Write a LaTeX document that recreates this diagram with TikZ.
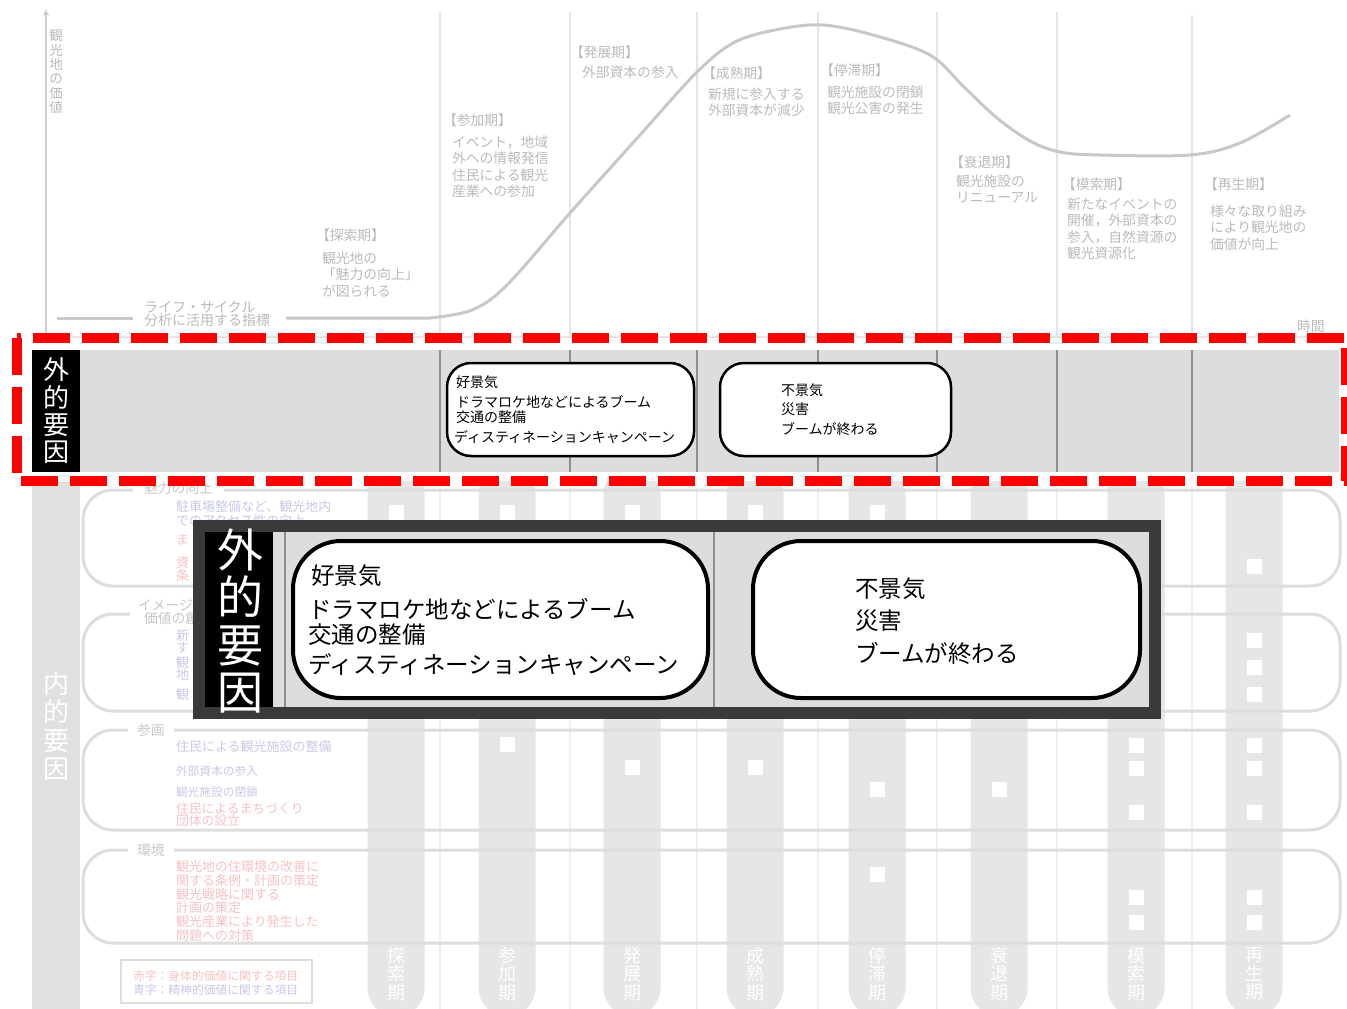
\documentclass[tikz,border=0pt]{standalone}
\usepackage{fontspec}
\setmainfont{Noto Sans CJK JP}
\usetikzlibrary{arrows.meta}
\definecolor{chartg}{HTML}{BBBBBB}
\definecolor{curvec}{HTML}{C8C8C8}
\definecolor{gridg}{HTML}{E5E5E5}
\definecolor{axisg}{HTML}{CFCFCF}
\definecolor{bandg}{HTML}{DCDDDD}
\definecolor{bandline}{HTML}{8E8E8E}
\definecolor{darkb}{HTML}{3C3A39}
\definecolor{pillg}{HTML}{E6E6E6}
\definecolor{boxg}{HTML}{DDDDDD}
\definecolor{labg}{HTML}{C8C8C8}
\definecolor{fblue}{HTML}{C9C9E9}
\definecolor{fred}{HTML}{F7C3C3}
\definecolor{lgrid}{HTML}{EFEFEF}
\definecolor{inbarc}{HTML}{E0E0E0}
\definecolor{dashred}{HTML}{FF0000}
\begin{document}
\begin{tikzpicture}[x=1pt,y=-1pt,
  every node/.style={inner sep=0pt,outer sep=0pt},
  ctext/.style={text=chartg,font=\fontsize{13.8}{16.4}\selectfont,align=left,anchor=north west},
  gridline/.style={draw=gridg,line width=1.8pt},
  lowgrid/.style={draw=lgrid,line width=2pt},
  grpbox/.style={draw=boxg,line width=3pt,rounded corners=30pt},
  grplabel/.style={text=labg,fill=white,font=\fontsize{13.8}{13}\selectfont,anchor=west,inner xsep=9pt,inner ysep=2pt,align=center},
  btext/.style={text=fblue,align=left,anchor=north west},
  rtext/.style={text=fred,align=left,anchor=north west},
  pill/.style={fill=pillg,rounded corners=28pt},
  smallbox/.style={draw=black,line width=2.5pt,fill=white,rounded corners=24pt,anchor=north west},
  bigbox/.style={draw=black,line width=4pt,fill=white,rounded corners=48pt,anchor=north west},
  stext/.style={text=black,font=\fontsize{14}{15}\selectfont,align=left,anchor=north west},
  btxt/.style={text=black,font=\fontsize{23.5}{25}\selectfont,align=left,anchor=north west},
]
\clip (0,0) rectangle (1347,1009);
\fill[white] (0,0) rectangle (1347,1009);

% ---------- top chart ----------
\foreach \x in {440,570,697,818,937,1057} \draw[gridline] (\x,12) -- (\x,337);
\draw[gridline] (1192,15) -- (1192,337);
\draw[gridline] (46,337) -- (1340,337);
\draw[draw=axisg,line width=2pt,-{Stealth[length=7pt,width=6pt]}] (46,337) -- (46,9);
\node[text=chartg,font=\fontsize{13.5}{14.3}\selectfont,align=center] (ylab) at (56,71.5) {観\\光\\地\\の\\価\\値};

\draw[curvec,line width=3pt] (57,318) -- (133,318);
\draw[curvec,line width=3pt,line join=round] (286,318) -- plot[smooth,tension=0.55] coordinates {(430,318) (472,310) (507,285) (570,213) (640,135) (697,72) (735,42) (780,29) (823,25) (873,35) (930,55) (965,88) (997,118) (1030,141) (1060,152) (1100,155) (1190,155) (1240,143) (1290,115)};

\node[text=chartg,font=\fontsize{14}{12}\selectfont,align=left,anchor=north west] (lc) at (144,300.7) {ライフ・サイクル\\分析に活用する指標};

\node[ctext] (t1) at (316,228.8) {【探索期】};
\node[ctext] (b1) at (322,251.8) {観光地の\\「魅力の向上」\\が図られる};
\node[ctext] (t2) at (443,113.8) {【参加期】};
\node[ctext] (b2) at (452,135.8) {イベント，地域\\外への情報発信\\住民による観光\\産業への参加};
\node[ctext] (t3) at (570,45.8) {【発展期】};
\node[ctext] (b3) at (582,65.8) {外部資本の参入};
\node[ctext] (t4) at (702,66.8) {【成熟期】};
\node[ctext] (b4) at (708,87.8) {新規に参入する\\外部資本が減少};
\node[ctext] (t5) at (820,63.8) {【停滞期】};
\node[ctext] (b5) at (827,85.8) {観光施設の閉鎖\\観光公害の発生};
\node[ctext] (t6) at (950,155.8) {【衰退期】};
\node[ctext] (b6) at (956,174.8) {観光施設の\\リニューアル};
\node[ctext] (t7) at (1062,177.8) {【模索期】};
\node[ctext] (b7) at (1067,197.8) {新たなイベントの\\開催，外部資本の\\参入，自然資源の\\観光資源化};
\node[ctext] (t8) at (1204,177.8) {【再生期】};
\node[ctext] (b8) at (1210,204.8) {様々な取り組み\\により観光地の\\価値が向上};
\node[ctext] (jikan) at (1297,319.8) {時間};

% ---------- lower region ----------
\fill[inbarc] (32,482) rectangle (80,1009);
\node[text=white,font=\fontsize{26}{28.5}\selectfont,align=center] (naiteki) at (56,726) {内\\的\\要\\因};
\foreach \x in {440,570,697,818,937,1057,1192} \draw[lowgrid] (\x,487) -- (\x,1009);

\foreach \cx in {396,507,632,755,877,999,1136,1254}
  \fill[pill] (\cx-28.5,466) rectangle (\cx+28.5,1016);

\foreach \cx/\cy in {396/512, 507/512, 507/744, 632/512, 632/767, 755/512, 755/767,
  877/512, 877/789, 877/874, 999/789,
  1136/745, 1136/768, 1136/812, 1136/897, 1136/922,
  1254/566, 1254/640, 1254/667, 1254/694, 1254/745, 1254/768, 1254/812, 1254/897, 1254/922}
  \fill[white] (\cx-7.5,\cy-7.5) rectangle (\cx+7.5,\cy+7.5);

\foreach \cx/\lab/\i in {396/{探\\索\\期}/1, 507/{参\\加\\期}/2, 632/{発\\展\\期}/3, 755/{成\\熟\\期}/4,
  877/{停\\滞\\期}/5, 999/{衰\\退\\期}/6, 1136/{模\\索\\期}/7, 1254/{再\\生\\期}/8}
  \node[text=white,font=\fontsize{18}{18.5}\selectfont,align=center] (pl\i) at (\cx,974) {\lab};

\draw[grpbox] (83,490) rectangle (1340,586);
\draw[grpbox] (83,614) rectangle (1340,711);
\draw[grpbox] (83,730) rectangle (1340,830);
\draw[grpbox] (83,850) rectangle (1340,943);
\node[grplabel,inner xsep=11pt] (g1) at (133,488) {魅力の向上};
\node[grplabel,inner xsep=8pt,align=left] (g2) at (130,612) {イメージ・\\\hspace{6pt}価値の創出};
\node[grplabel] (g3) at (128,730) {参画};
\node[grplabel] (g4) at (128,850) {環境};

\node[btext,font=\fontsize{13}{11.5}\selectfont] (i1) at (176,501) {駐車場整備など、観光地内\\でのアクセス性の向上};
\node[rtext,font=\fontsize{13}{12}\selectfont] (i2) at (176,534) {ま};
\node[rtext,font=\fontsize{13}{12}\selectfont] (i3) at (176,557) {資\\条};
\node[btext,font=\fontsize{13}{12}\selectfont] (i4) at (176,630) {新\\す};
\node[btext,font=\fontsize{13}{12}\selectfont] (i5) at (176,657) {観\\地};
\node[btext,font=\fontsize{13}{12}\selectfont] (i6) at (176,689) {観};

\node[btext,font=\fontsize{13}{12}\selectfont] (i7) at (176,741) {住民による観光施設の整備};
\node[btext,font=\fontsize{11.7}{12}\selectfont] (i8) at (176,765.7) {外部資本の参入};
\node[btext,font=\fontsize{11.7}{12}\selectfont] (i9) at (176,786.7) {観光施設の閉鎖};
\node[rtext,font=\fontsize{12.8}{12}\selectfont] (i10) at (176,803.2) {住民によるまちづくり\\団体の設立};
\node[rtext,font=\fontsize{13}{12}\selectfont] (i11) at (176,861) {観光地の住環境の改善に\\関する条例・計画の策定};
\node[rtext,font=\fontsize{13}{13}\selectfont] (i12) at (176,889) {観光戦略に関する\\計画の策定};
\node[rtext,font=\fontsize{13}{11.5}\selectfont] (i13) at (176,916) {観光産業により発生した\\問題への対策};

\node[draw=boxg,line width=2pt,minimum width=191pt,minimum height=43pt,anchor=north west] (legend) at (121,960) {};
\node[rtext,font=\fontsize{11.8}{12}\selectfont] (l1) at (133,970.7) {赤字：身体的価値に関する項目};
\node[btext,font=\fontsize{11.8}{12}\selectfont] (l2) at (133,984.7) {青字：精神的価値に関する項目};

% ---------- external factor band ----------
\fill[white] (17,338) rectangle (1346,481);
\fill[bandg] (32,350) rectangle (1339,472);
\foreach \x in {440,570,697,818,937,1057,1192} \draw[bandline,line width=1.5pt] (\x,350) -- (\x,472);
\fill[black] (32,350) rectangle (80,472);
\node[text=white,font=\fontsize{26}{27.3}\selectfont,align=center] (gaiS) at (56,411) {外\\的\\要\\因};

\node[smallbox,minimum width=247pt,minimum height=93pt] (sb1) at (447,363) {};
\node[smallbox,minimum width=231pt,minimum height=93pt] (sb2) at (720,363) {};
\node[stext] (s1) at (456,375.7) {好景気};
\node[stext] (s2) at (456,395.7) {ドラマロケ地などによるブーム\\交通の整備};
\node[stext] (s3) at (454,430.7) {ディスティネーションキャンペーン};
\node[stext,font=\fontsize{14}{19.5}\selectfont] (s4) at (781,383.7) {不景気\\災害\\ブームが終わる};

\draw[dashred,line width=10.5pt,dash pattern=on 37pt off 12pt] (17,338) rectangle (1346,481);

% ---------- magnified box ----------
\fill[darkb] (193,520) rectangle (1161,719);
\fill[bandg] (205,532) rectangle (1149,707);
\fill[black] (205,532) rectangle (273,707);
\draw[bandline,line width=2pt] (285,532) -- (285,707);
\draw[bandline,line width=2pt] (714,532) -- (714,707);
\node[text=white,font=\fontsize{46}{47.3}\selectfont,align=center] (gaiL) at (240,621) {外\\的\\要\\因};
\node[bigbox,minimum width=415pt,minimum height=157pt] (bb1) at (293,541) {};
\node[bigbox,minimum width=387pt,minimum height=157pt] (bb2) at (753,541) {};
\node[btxt] (L1) at (311,564.4) {好景気};
\node[btxt] (L2) at (308,598.4) {ドラマロケ地などによるブーム\\交通の整備};
\node[btxt] (L3) at (308,653.4) {ディスティネーションキャンペーン};
\node[btxt,font=\fontsize{23.5}{32.5}\selectfont] (L4) at (855,577.4) {不景気\\災害\\ブームが終わる};
\end{tikzpicture}
\end{document}
